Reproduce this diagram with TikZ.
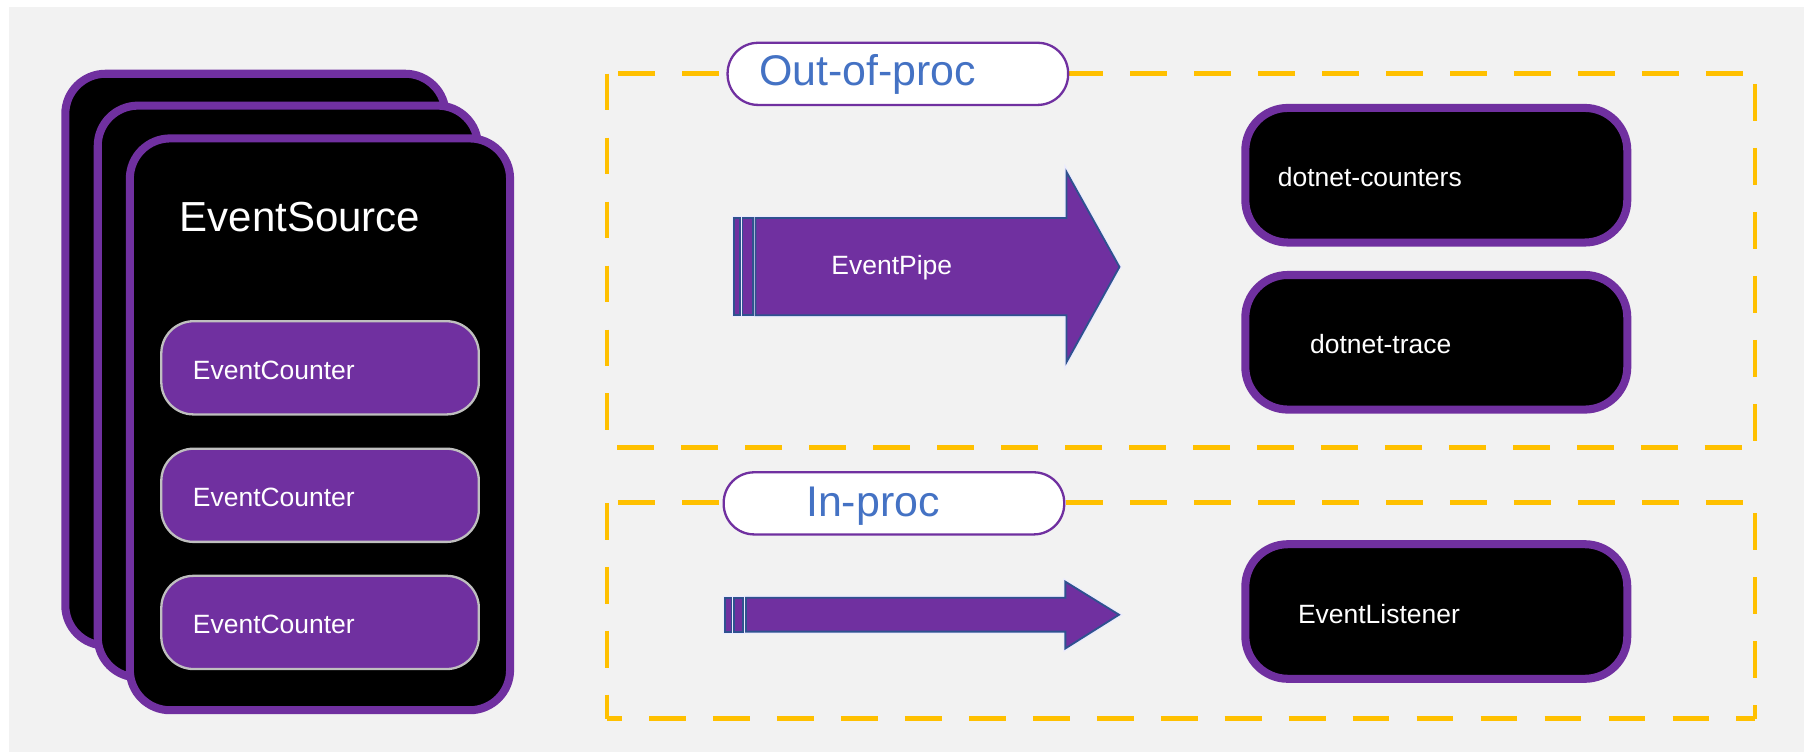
\documentclass[tikz,border=0pt]{standalone}
\usepackage{fontspec}
\setmainfont{Liberation Sans}
\definecolor{purp}{HTML}{7030A0}
\definecolor{bluetxt}{HTML}{4472C4}
\definecolor{gold}{HTML}{FFC000}
\definecolor{arrblue}{HTML}{2F528F}
\definecolor{bggray}{HTML}{F2F2F2}
\definecolor{cgray}{HTML}{BFBFBF}
\begin{document}
\begin{tikzpicture}[x=1pt,y=-1pt,
  card/.style={draw=purp, line width=7pt, fill=black, rounded corners=35pt,
    minimum width=330.5pt, minimum height=497pt, inner sep=0pt},
  counter/.style={draw=cgray, line width=2pt, fill=purp, rounded corners=28pt,
    minimum width=276pt, minimum height=81pt, inner sep=0pt},
  tool/.style={draw=purp, line width=7pt, fill=black, rounded corners=37pt,
    minimum width=332pt, minimum height=117pt, inner sep=0pt},
  pill/.style={draw=purp, line width=2pt, fill=white, rounded corners=26.5pt,
    minimum width=296pt, minimum height=54pt, inner sep=0pt},
  zone/.style={draw=gold, line width=4pt, dash pattern=on 32pt off 23.6pt},
  halo/.style={draw=white!92!blue, line width=3.6pt, line join=miter},
  arrowbody/.style={fill=purp, draw=arrblue, line width=1.6pt, line join=miter},
  wsmall/.style={text=white, font=\fontsize{23}{27}\selectfont, inner sep=0pt},
  wbig/.style={text=white, font=\fontsize{36.5}{42}\selectfont, inner sep=0pt},
  bbig/.style={text=bluetxt, font=\fontsize{37.3}{42}\selectfont, inner sep=0pt}]
\useasboundingbox (0,0) rectangle (1568,653.6);
\fill[white] (0,0) rectangle (1568,653.6);
\fill[bggray] (8,6) rectangle (1568,653.6);

% stacked EventSource cards
\node[card] (back) at (222,312.6) {};
\node[card] (mid) at (250.2,340.3) {};
\node[card] (front) at (278.1,368.8) {};
\node[wbig, anchor=base west] (es) at (156,201) {EventSource};

\node[counter] (c1) at (278.2,319.7) {};
\node[counter] (c2) at (278.2,430.5) {};
\node[counter] (c3) at (278.2,541) {};
\node[wsmall, anchor=west] (t1) at (167.5,321.5) {EventCounter};
\node[wsmall, anchor=west] (t2) at (167.5,432.5) {EventCounter};
\node[wsmall, anchor=west] (t3) at (167.5,543) {EventCounter};

% zones (each side dashed on its own, as in the reference)
\coordinate (oTL) at (527.5,64);   \coordinate (oTR) at (1525.5,64);
\coordinate (oBL) at (527.5,389);  \coordinate (oBR) at (1525.5,389);
\draw[zone, dash phase=45.6pt] (oTL) -- (oTR);
\draw[zone] (oTL) -- (oBL);
\draw[zone, dash phase=46.6pt] (oBL) -- (oBR);
\draw[zone, dash phase=46.6pt] (oTR) -- (oBR);
\coordinate (iTL) at (527.5,437);  \coordinate (iTR) at (1525.5,437);
\coordinate (iBL) at (527.5,624.5); \coordinate (iBR) at (1525.5,624.5);
\draw[zone, dash phase=45.6pt] (iTL) -- (iTR);
\draw[zone] (iTL) -- (iBL);
\draw[zone, dash phase=19pt] (iBL) -- (iBR);
\draw[zone, dash phase=46.6pt] (iTR) -- (iBR);

\node[pill] (outp) at (780.4,64.2) {};
\node[bbig, anchor=base west] (outt) at (659.5,74.5) {Out-of-proc};
\node[pill] (inp) at (777,437.5) {};
\node[bbig, anchor=base west] (int) at (700.5,449) {In-proc};

% EventPipe arrow
\foreach \st in {halo, arrowbody}{
  \draw[\st] (638,189.5) rectangle (643,274);
  \draw[\st] (645.4,189.5) rectangle (654.2,274);
  \draw[\st] (656.6,189.5) -- (927,189.5) -- (927,149.5) -- (973,232)
    -- (927,314.7) -- (927,274) -- (656.6,274) -- cycle;
}
\node[wsmall, anchor=west] (pipe) at (722.5,233) {EventPipe};

% in-proc arrow
\foreach \st in {halo, arrowbody}{
  \draw[\st] (630.5,519.5) rectangle (635.8,549);
  \draw[\st] (638.2,519.5) rectangle (646,549);
  \draw[\st] (648.4,519.5) -- (926,519.5) -- (926,505.6) -- (972.6,534.3)
    -- (926,563.6) -- (926,549) -- (648.4,549) -- cycle;
}

% tools
\node[tool] (dc) at (1248.4,152.3) {};
\node[wsmall, anchor=west] (dct) at (1110.5,154) {dotnet-counters};
\node[tool] (dt) at (1248.4,297.5) {};
\node[wsmall, anchor=west] (dtt) at (1138.5,299) {dotnet-trace};
\node[tool] (el) at (1248.4,531.5) {};
\node[wsmall, anchor=west] (elt) at (1128,534) {EventListener};
\end{tikzpicture}
\end{document}
